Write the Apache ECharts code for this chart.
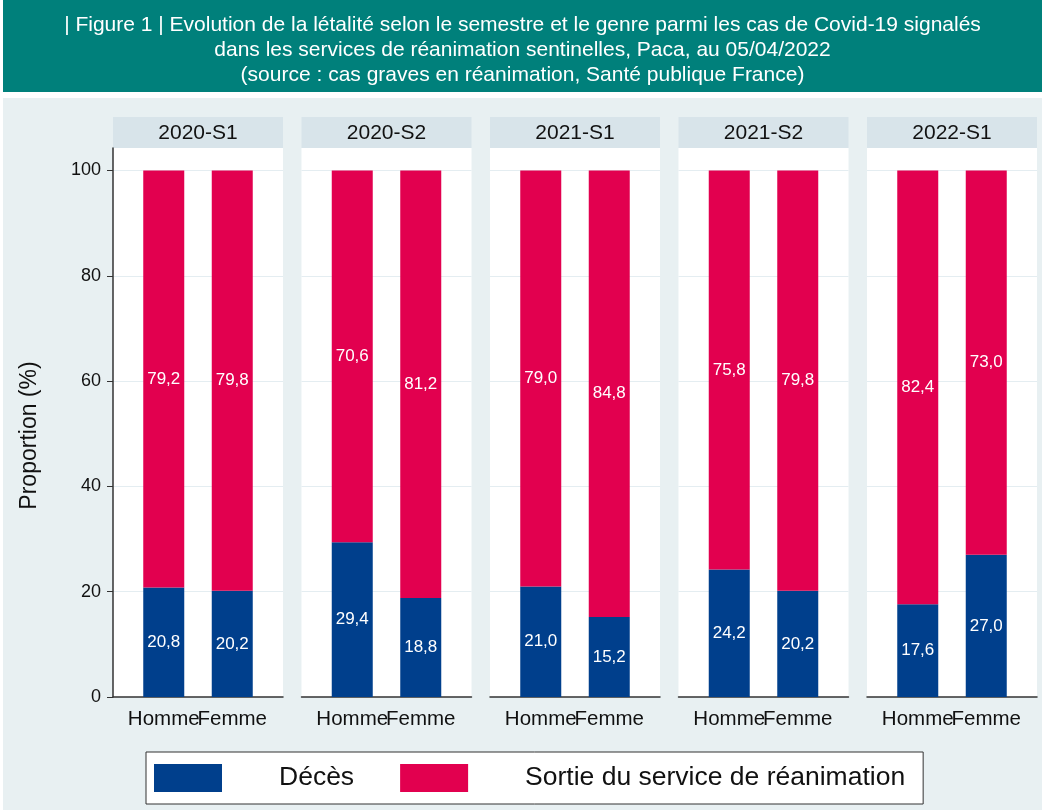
<!DOCTYPE html>
<html>
<head>
<meta charset="utf-8">
<script src="https://cdn.jsdelivr.net/npm/echarts@6/dist/echarts.min.js"></script>
<style>
  html, body { margin: 0; padding: 0; background: #fff; }
  #main { width: 1045px; height: 810px; }
</style>
</head>
<body>
<div id="main"></div>
<script>
// donnees
var semestres = ['2020-S1', '2020-S2', '2021-S1', '2021-S2', '2022-S1'];
var genres = ['Homme', 'Femme'];
var deces = [[20.8, 20.2], [29.4, 18.8], [21.0, 15.2], [24.2, 20.2], [17.6, 27.0]];
var sortie = [[79.2, 79.8], [70.6, 81.2], [79.0, 84.8], [75.8, 79.8], [82.4, 73.0]];
var yTicks = [0, 20, 40, 60, 80, 100];

var FONT = 'Liberation Sans, Arial, sans-serif';
var colDeces = '#003f8c';
var colSortie = '#e2004f';

// mise en page des panneaux
var panelLeft = 113, panelStep = 188.5, panelWidth = 170;
var plotTop = 148, plotBottom = 697, y100 = 170.5;
var yMax = 100 * (plotBottom - plotTop) / (plotBottom - y100);

function fmt(v) {
    return v.toFixed(1).replace('.', ',');
}

var grids = [], xAxes = [], yAxes = [], series = [], graphics = [];

graphics.push({type: 'rect', z: -10, shape: {x: 3, y: 0, width: 1039, height: 92}, style: {fill: '#00807b'}});
graphics.push({type: 'rect', z: -10, shape: {x: 3, y: 98, width: 1039, height: 712}, style: {fill: '#e8f0f2'}});

semestres.forEach(function (s, i) {
    var px = panelLeft + i * panelStep;
    var first = i === 0;

    // en-tete du panneau
    graphics.push({type: 'rect', shape: {x: px, y: 117, width: panelWidth, height: 31}, style: {fill: '#d8e4ea'}});
    graphics.push({type: 'text', x: px + panelWidth / 2, y: 133, style: {
        text: s, fill: '#111', font: '21px ' + FONT, textAlign: 'center', textVerticalAlign: 'middle'
    }});

    // grille de fond (quadrillage, axes)
    grids.push({left: px, width: panelWidth, top: plotTop, height: plotBottom - plotTop,
        show: true, backgroundColor: '#fff', borderWidth: 0});
    xAxes.push({gridIndex: 2 * i, type: 'value', min: 0, max: 1,
        axisLine: {show: true, lineStyle: {color: '#333', width: 1.5}},
        axisTick: {show: false}, axisLabel: {show: false}, splitLine: {show: false}});
    yAxes.push({gridIndex: 2 * i, type: 'value', min: 0, max: yMax, interval: 20,
        name: first ? 'Proportion (%)' : '',
        nameLocation: 'middle', nameGap: 72,
        nameTextStyle: {fontSize: 23, color: '#111', fontFamily: FONT, padding: [0, 26, 0, 0]},
        axisLine: {show: first, lineStyle: {color: '#333', width: 1.5}},
        axisTick: {show: first, customValues: yTicks, length: 6, lineStyle: {color: '#333'}},
        axisLabel: {show: first, customValues: yTicks, fontSize: 18, color: '#111', fontFamily: FONT, margin: 12},
        splitLine: {show: true, lineStyle: {color: '#e4edf1', width: 1}}});

    // grille des barres
    grids.push({left: px + 16.5, width: 137, top: plotTop, height: plotBottom - plotTop});
    xAxes.push({gridIndex: 2 * i + 1, type: 'category', data: genres,
        axisLine: {show: false}, axisTick: {show: false}, splitLine: {show: false},
        axisLabel: {interval: 0, fontSize: 20.5, color: '#111', fontFamily: FONT, margin: 12}});
    yAxes.push({gridIndex: 2 * i + 1, type: 'value', min: 0, max: yMax, show: false, splitLine: {show: false}});

    var lbl = {show: true, position: 'inside', color: '#fff', fontSize: 17, fontFamily: FONT,
        formatter: function (p) { return fmt(p.value); }};
    series.push({name: 'Décès', type: 'bar', stack: 's' + i, xAxisIndex: 2 * i + 1, yAxisIndex: 2 * i + 1,
        barWidth: 41, data: deces[i], itemStyle: {color: colDeces}, label: lbl});
    series.push({name: 'Sortie du service de réanimation', type: 'bar', stack: 's' + i,
        xAxisIndex: 2 * i + 1, yAxisIndex: 2 * i + 1,
        barWidth: 41, data: sortie[i], itemStyle: {color: colSortie}, label: lbl});
});

var chart = echarts.init(document.getElementById('main'), null, {renderer: 'canvas'});
chart.setOption({
    backgroundColor: '#fff',
    animation: false,
    title: {
        text: '| Figure 1 | Evolution de la létalité selon le semestre et le genre parmi les cas de Covid-19 signalés\n'
            + 'dans les services de réanimation sentinelles, Paca, au 05/04/2022\n'
            + '(source : cas graves en réanimation, Santé publique France)',
        left: 'center', top: 8,
        textStyle: {color: '#fff', fontSize: 21, fontWeight: 'normal', fontFamily: FONT, lineHeight: 25}
    },
    legend: {
        data: ['Décès', 'Sortie du service de réanimation'],
        left: 146, top: 752,
        icon: 'rect', itemWidth: 68, itemHeight: 28, itemGap: 46,
        padding: [12, 18, 12, 8],
        backgroundColor: '#fff', borderColor: '#333', borderWidth: 1,
        textStyle: {fontSize: 26.5, color: '#111', fontFamily: FONT, padding: [0, 0, 0, 52]}
    },
    grid: grids,
    xAxis: xAxes,
    yAxis: yAxes,
    graphic: graphics,
    series: series
});
</script>
</body>
</html>
